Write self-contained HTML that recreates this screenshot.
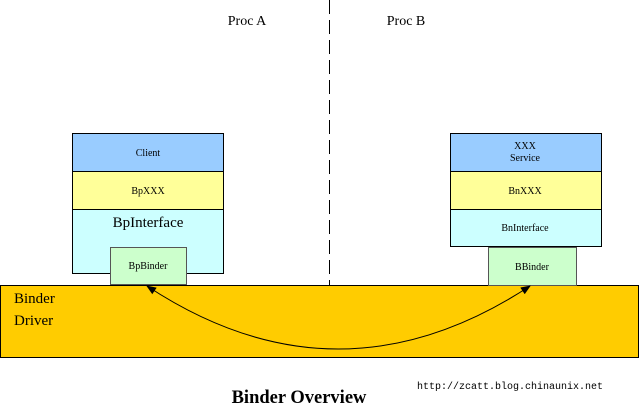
<!DOCTYPE html>
<html><head><meta charset="utf-8"><style>
body{margin:0;background:#fff;}
</style></head><body>
<svg width="640" height="410" xmlns="http://www.w3.org/2000/svg" font-family="Liberation Serif, serif">
<defs><marker id="a" markerWidth="10" markerHeight="8" refX="9" refY="4" orient="auto-start-reverse" markerUnits="userSpaceOnUse"><path d="M0,0 L10,4 L0,8 z" fill="#000"/></marker></defs>
<text x="247" y="25" font-size="14" text-anchor="middle">Proc A</text>
<text x="406" y="25" font-size="14" text-anchor="middle">Proc B</text>
<line x1="329.5" y1="0" x2="329.5" y2="285" stroke="#000" stroke-dasharray="14,6"/>
<rect x="0.5" y="285.5" width="638" height="72" fill="#ffcc00" stroke="#000"/>
<text x="14" y="303" font-size="15">Binder</text>
<text x="14" y="325" font-size="15">Driver</text>
<rect x="72.5" y="133.5" width="151" height="38" fill="#99ccff" stroke="#000"/>
<rect x="72.5" y="171.5" width="151" height="38" fill="#ffff99" stroke="#000"/>
<rect x="72.5" y="209.5" width="151" height="64" fill="#ccffff" stroke="#000"/>
<text x="148" y="156" font-size="10" text-anchor="middle">Client</text>
<text x="148" y="194" font-size="10" text-anchor="middle">BpXXX</text>
<text x="148" y="227" font-size="15" text-anchor="middle">BpInterface</text>
<rect x="110.5" y="247.5" width="76" height="37" fill="#ccffcc" stroke="#555"/>
<text x="148" y="269" font-size="10" text-anchor="middle">BpBinder</text>
<rect x="450.5" y="133.5" width="151" height="38" fill="#99ccff" stroke="#000"/>
<rect x="450.5" y="171.5" width="151" height="38" fill="#ffff99" stroke="#000"/>
<rect x="450.5" y="209.5" width="151" height="37" fill="#ccffff" stroke="#000"/>
<text x="525" y="149" font-size="10" text-anchor="middle">XXX</text>
<text x="525" y="161" font-size="10" text-anchor="middle">Service</text>
<text x="525" y="194" font-size="10" text-anchor="middle">BnXXX</text>
<text x="525" y="231" font-size="10" text-anchor="middle">BnInterface</text>
<rect x="488.5" y="247.5" width="88" height="38" fill="#ccffcc" stroke="#555"/>
<text x="532" y="270" font-size="10" text-anchor="middle">BBinder</text>
<path d="M147,286 Q338,412 530,286" fill="none" stroke="#000" marker-start="url(#a)" marker-end="url(#a)"/>
<text x="299" y="403" font-size="18.5" font-weight="bold" text-anchor="middle">Binder Overview</text>
<text x="417" y="389" font-size="10" font-family="Liberation Mono, monospace">http://zcatt.blog.chinaunix.net</text>
</svg>
</body></html>
